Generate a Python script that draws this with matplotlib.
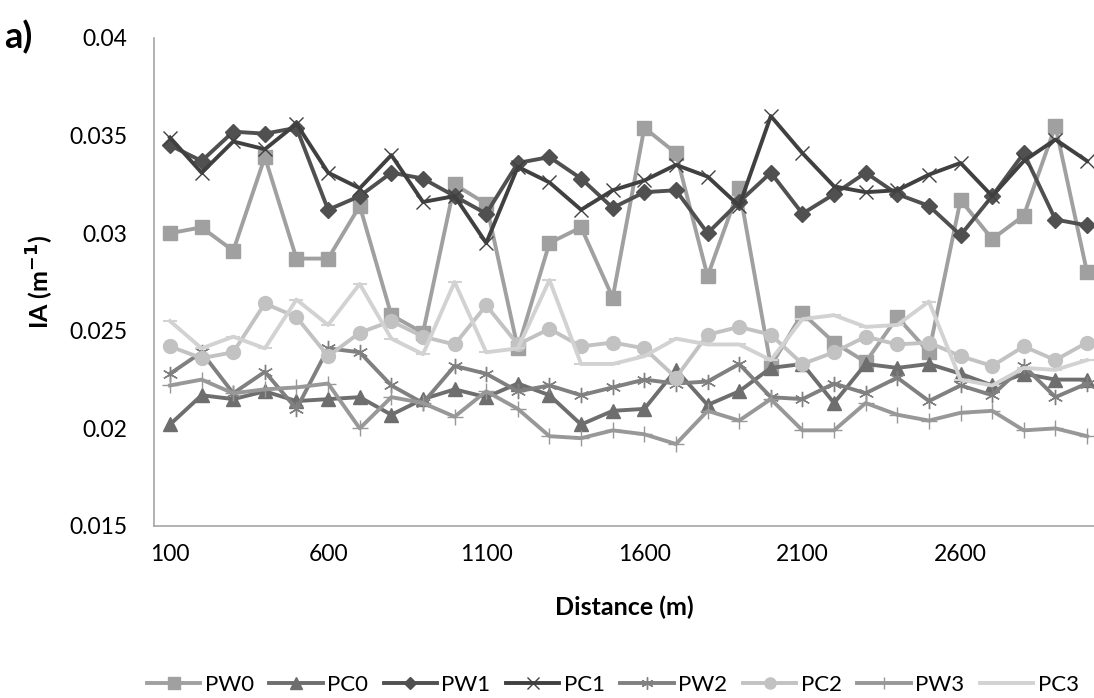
import numpy as np
import matplotlib
matplotlib.use("Agg")
import matplotlib.pyplot as plt

# distance categories 100..3000 m
distance = list(range(100, 3001, 100))

pw0 = [0.0300, 0.0303, 0.0291, 0.0339, 0.0287, 0.0287, 0.0314, 0.0258, 0.0249, 0.0325,
       0.0315, 0.0241, 0.0295, 0.0303, 0.0267, 0.0354, 0.0341, 0.0278, 0.0323, 0.0232,
       0.0259, 0.0244, 0.0234, 0.0257, 0.0239, 0.0317, 0.0297, 0.0309, 0.0355, 0.0280]
pc0 = [0.0202, 0.0217, 0.0215, 0.0219, 0.0214, 0.0215, 0.0216, 0.0207, 0.0215, 0.0220,
       0.0216, 0.0223, 0.0217, 0.0202, 0.0209, 0.0210, 0.0230, 0.0212, 0.0219, 0.0231,
       0.0233, 0.0213, 0.0233, 0.0231, 0.0233, 0.0228, 0.0222, 0.0228, 0.0225, 0.0225]
pw1 = [0.0345, 0.0337, 0.0352, 0.0351, 0.0354, 0.0312, 0.0319, 0.0331, 0.0328, 0.0319,
       0.0310, 0.0336, 0.0339, 0.0328, 0.0313, 0.0321, 0.0322, 0.0300, 0.0316, 0.0331,
       0.0310, 0.0320, 0.0331, 0.0320, 0.0314, 0.0299, 0.0319, 0.0341, 0.0307, 0.0304]
pc1 = [0.0349, 0.0331, 0.0347, 0.0343, 0.0356, 0.0331, 0.0323, 0.0340, 0.0316, 0.0319,
       0.0295, 0.0334, 0.0326, 0.0312, 0.0322, 0.0327, 0.0335, 0.0329, 0.0314, 0.0360,
       0.0341, 0.0324, 0.0321, 0.0322, 0.0330, 0.0336, 0.0319, 0.0337, 0.0348, 0.0337]
pw2 = [0.0228, 0.0239, 0.0218, 0.0229, 0.0210, 0.0241, 0.0239, 0.0222, 0.0213, 0.0232,
       0.0228, 0.0219, 0.0222, 0.0217, 0.0221, 0.0225, 0.0223, 0.0224, 0.0233, 0.0216,
       0.0215, 0.0223, 0.0218, 0.0226, 0.0214, 0.0222, 0.0217, 0.0232, 0.0216, 0.0223]
pc2 = [0.0242, 0.0236, 0.0239, 0.0264, 0.0257, 0.0237, 0.0249, 0.0255, 0.0247, 0.0243,
       0.0263, 0.0243, 0.0251, 0.0242, 0.0244, 0.0241, 0.0226, 0.0248, 0.0252, 0.0248,
       0.0233, 0.0239, 0.0247, 0.0243, 0.0244, 0.0237, 0.0232, 0.0242, 0.0235, 0.0244]
pw3 = [0.0222, 0.0225, 0.0218, 0.0220, 0.0221, 0.0223, 0.0200, 0.0216, 0.0213, 0.0206,
       0.0219, 0.0210, 0.0196, 0.0195, 0.0199, 0.0197, 0.0192, 0.0209, 0.0204, 0.0215,
       0.0199, 0.0199, 0.0213, 0.0207, 0.0204, 0.0208, 0.0209, 0.0199, 0.0200, 0.0196]
pc3 = [0.0255, 0.0241, 0.0247, 0.0241, 0.0266, 0.0253, 0.0274, 0.0246, 0.0238, 0.0275,
       0.0239, 0.0241, 0.0276, 0.0233, 0.0233, 0.0237, 0.0246, 0.0243, 0.0243, 0.0235,
       0.0256, 0.0258, 0.0252, 0.0253, 0.0265, 0.0225, 0.0222, 0.0231, 0.0230, 0.0235]

names = ["PW0", "PC0", "PW1", "PC1", "PW2", "PC2", "PW3", "PC3"]
series = [pw0, pc0, pw1, pc1, pw2, pc2, pw3, pc3]

# style per series: colour, marker, marker size, marker edge width
styles = [
    ("#a0a0a0", "s", 10, 1),
    ("#6e6e6e", "^", 10, 1),
    ("#505050", "D", 8, 1),
    ("#404040", "x", 10, 1.0),
    ("#808080", (6, 2, 0), 11, 1.0),
    ("#c2c2c2", "o", 10, 1),
    ("#989898", "+", 11, 1.0),
    ("#d2d2d2", "_", 10, 1.5),
]

plt.rcParams['font.family'] = ['Lato', 'DejaVu Sans']

fig = plt.figure(figsize=(10.94, 6.98), dpi=100)
ax = fig.add_axes([154 / 1094, 172 / 698, 1 - 154 / 1094, 488 / 698])

for name, vals, (col, mk, ms, mew) in zip(names, series, styles):
    ax.plot(distance, vals, color=col, lw=2.8, marker=mk, markersize=ms,
            markeredgewidth=mew, markerfacecolor=col, markeredgecolor=col,
            label=name, clip_on=False)

ax.set_xlim(49.4, 3022)
ax.set_ylim(0.015, 0.04)
ax.set_xticks([100, 600, 1100, 1600, 2100, 2600])
ax.set_yticks([0.015, 0.02, 0.025, 0.03, 0.035, 0.04])
ax.set_yticklabels(["0.015", "0.02", "0.025", "0.03", "0.035", "0.04"])
ax.tick_params(length=0, labelsize=16.5, colors="black")
ax.tick_params(axis="x", pad=13)
ax.tick_params(axis="y", pad=19)

for s in ["top", "right"]:
    ax.spines[s].set_visible(False)
for s in ["left", "bottom"]:
    ax.spines[s].set_color("#a6a6a6")
    ax.spines[s].set_linewidth(1.2)

ax.set_xlabel("Distance (m)", fontsize=18, fontweight="bold", labelpad=22)
ax.set_ylabel("IA (m$^{\\mathbf{-1}}$)", fontsize=18, fontweight="bold", labelpad=10)

fig.text(0.004, 0.972, "a)", fontsize=26, fontweight="bold", va="top")

leg = ax.legend(loc="center", bbox_to_anchor=(0.488, -0.325),
                ncol=8, frameon=False, fontsize=16, handlelength=2.4,
                handletextpad=0.2, columnspacing=0.7, markerscale=0.8,
                borderpad=0.1)

fig.savefig("out.png", dpi=100)
